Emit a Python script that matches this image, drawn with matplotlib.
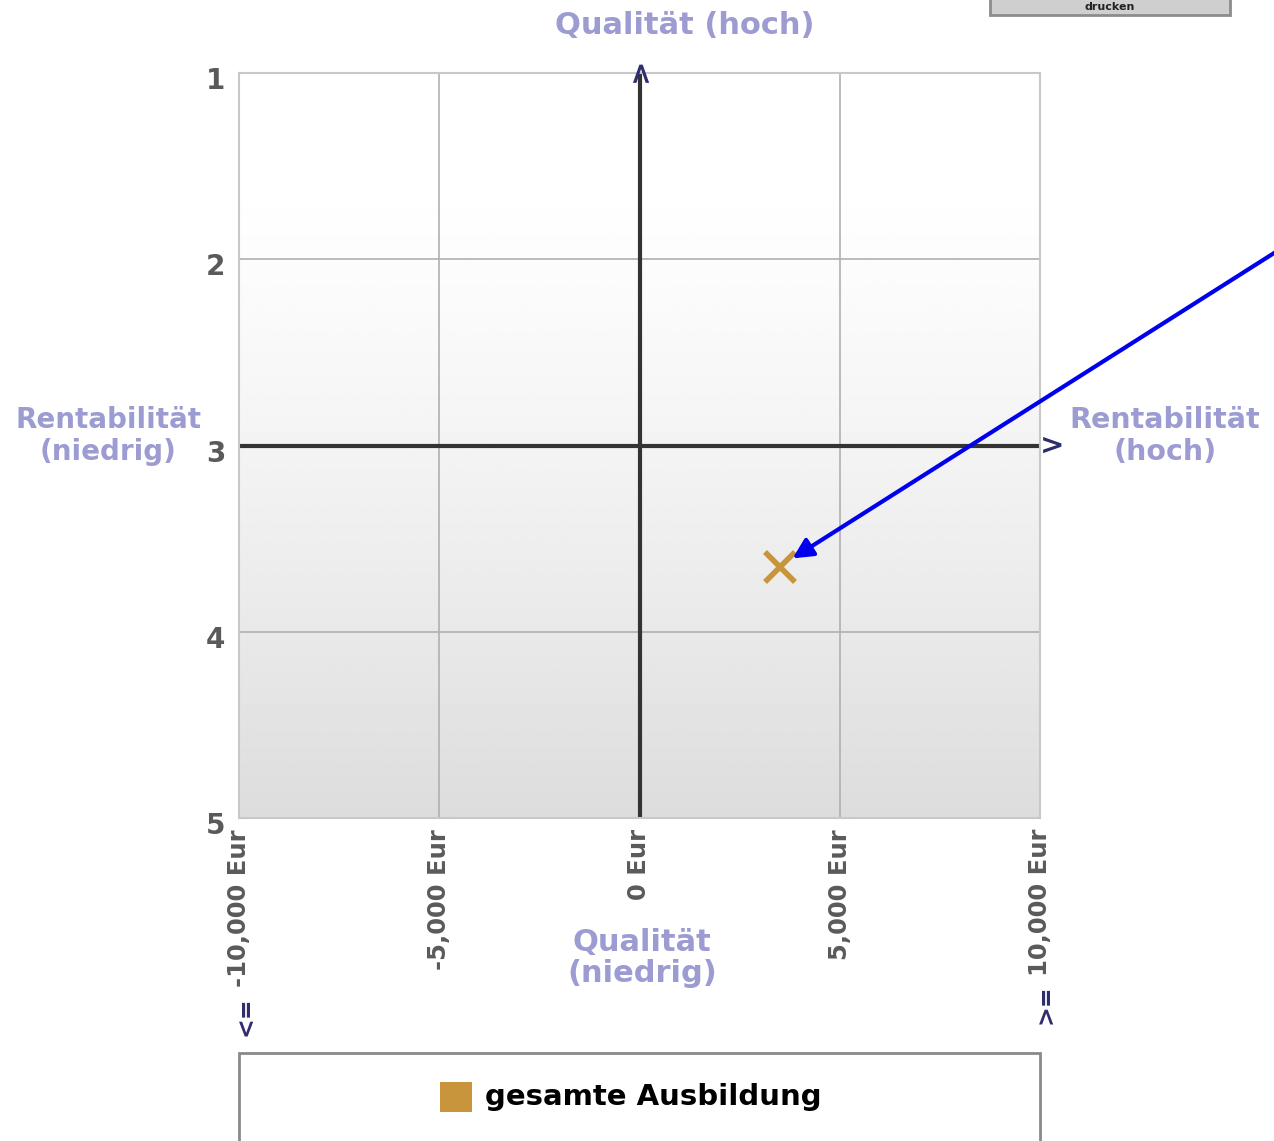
import matplotlib.pyplot as plt
import matplotlib.transforms as mtransforms
import numpy as np
from matplotlib.patches import Rectangle

# Daten
x_ticks = [-10000, -5000, 0, 5000, 10000]
x_labels = ["-10,000 Eur", "-5,000 Eur", "0 Eur", "5,000 Eur", "10,000 Eur"]
y_ticks = [1, 2, 3, 4, 5]
punkt_x = [3500]
punkt_y = [3.65]
serie = "gesamte Ausbildung"

lila = "#9c9cd2"
navy = "#2d2d6e"
grau = "#5a5a5a"
orange = "#c8943c"

fig = plt.figure(figsize=(12.74, 11.41), dpi=100)
ax = fig.add_axes([239 / 1274, 1 - 818 / 1141, 801 / 1274, 745 / 1141])

# Hintergrund mit Verlauf (weiss oben, grau unten)
t = np.linspace(0, 1, 300)
ramp = np.clip((t - 0.12) / 0.88, 0, 1)
ramp = ramp ** 1.3
farbe = 1.0 - 0.135 * ramp
bild = np.tile(farbe[:, None], (1, 2))
ax.imshow(bild, extent=[-10000, 10000, 5, 1], aspect="auto", cmap="gray",
          vmin=0, vmax=1, zorder=0, interpolation="bilinear")

ax.set_xlim(-10000, 10000)
ax.set_ylim(5, 1)

for xv in x_ticks:
    if xv != 0:
        ax.axvline(xv, color="#b0b0b0", lw=1.2, zorder=1)
for yv in y_ticks:
    if yv != 3:
        ax.axhline(yv, color="#b0b0b0", lw=1.2, zorder=1)
ax.axvline(0, color="#333333", lw=3, zorder=2)
ax.axhline(3, color="#333333", lw=3, zorder=2)

for s in ax.spines.values():
    s.set_color("#c8c8c8")
    s.set_linewidth(1.5)

ax.set_xticks(x_ticks)
ax.set_xticklabels(x_labels, rotation=90, fontsize=17.5, fontweight="bold", color=grau)
ax.set_yticks(y_ticks)
ax.set_yticklabels([str(v) for v in y_ticks], fontsize=20, fontweight="bold", color=grau)
ax.tick_params(length=0, pad=8)
ax.tick_params(axis="y", pad=10)
# Zahlen der y-Achse etwas nach unten schieben
versatz = mtransforms.ScaledTranslation(0, -5 / 100, fig.dpi_scale_trans)
for lab in ax.get_yticklabels():
    lab.set_transform(lab.get_transform() + versatz)

# Pfeilspitzen der Achsen
ax.text(0, 0.985, ">", rotation=90, ha="center", va="center", fontsize=21,
        fontweight="bold", color=navy, clip_on=False, zorder=5)
ax.text(10000, 3, ">", ha="left", va="center", fontsize=21, fontweight="bold",
        color=navy, clip_on=False, zorder=5)

# <= und >= unter den Randbeschriftungen
fig.text(246 / 1274, 1 - 1016 / 1141, "<=", rotation=90, ha="center", va="center",
         fontsize=17, fontweight="bold", color=navy)
fig.text(1046 / 1274, 1 - 1004 / 1141, ">=", rotation=90, ha="center", va="center",
         fontsize=17, fontweight="bold", color=navy)

# Beschriftungen der Quadranten
fig.text(685 / 1274, 1 - 25 / 1141, "Qualität (hoch)", ha="center", va="center",
         fontsize=22, fontweight="bold", color=lila)
fig.text(642 / 1274, 1 - 958 / 1141, "Qualität\n(niedrig)", ha="center", va="center",
         fontsize=22, fontweight="bold", color=lila, linespacing=1.05)
fig.text(108 / 1274, 1 - 436 / 1141, "Rentabilität\n(niedrig)", ha="center", va="center",
         fontsize=20, fontweight="bold", color=lila, linespacing=1.15)
fig.text(1165 / 1274, 1 - 436 / 1141, "Rentabilität\n(hoch)", ha="center", va="center",
         fontsize=20.5, fontweight="bold", color=lila, linespacing=1.15)

# Datenpunkt
ax.plot(punkt_x, punkt_y, marker="x", markersize=21, mew=4, color=orange,
        linestyle="none", zorder=6)

# blauer Pfeil von aussen
ax.annotate("", xy=(punkt_x[0], punkt_y[0]), xycoords="data",
            xytext=(1.01, 1 - 245 / 1141), textcoords="figure fraction",
            arrowprops=dict(arrowstyle="-|>", color="#0000ee", lw=3,
                            mutation_scale=30, shrinkA=0, shrinkB=11),
            annotation_clip=False, zorder=7)

# Legende
fig.patches.append(Rectangle((239 / 1274, -0.05), 801 / 1274, 0.05 + 88 / 1141,
                             transform=fig.transFigure, facecolor="white",
                             edgecolor="#8a8a8a", lw=2))
fig.patches.append(Rectangle((440 / 1274, 1 - 1112 / 1141), 32 / 1274, 30 / 1141,
                             transform=fig.transFigure, facecolor=orange,
                             edgecolor="none"))
fig.text(485 / 1274, 1 - 1097 / 1141, serie, ha="left", va="center",
         fontsize=21, fontweight="bold", color="black")

# Knopf oben rechts (oben abgeschnitten)
fig.patches.append(Rectangle((990 / 1274, 1 - 15 / 1141), 240 / 1274, 0.05,
                             transform=fig.transFigure, facecolor="#cfcfcf",
                             edgecolor="#8c8c8c", lw=2))
fig.text(1110 / 1274, 1 - 7 / 1141, "drucken", ha="center", va="center",
         fontsize=8, fontweight="bold", color="#222222")

fig.savefig("out.png", dpi=100)
